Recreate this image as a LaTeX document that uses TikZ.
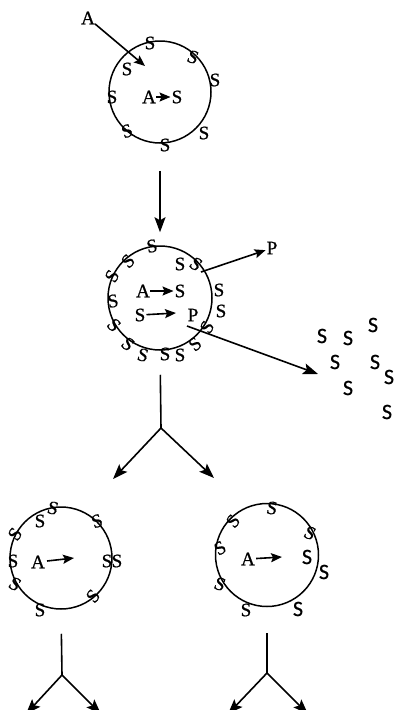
\documentclass[tikz,border=0pt]{standalone}
\usepackage{fontspec}
\setmainfont{Liberation Serif}[FakeBold=0.9]
\newfontfamily\sansS{Carlito}[FakeBold=0.6]
\usetikzlibrary{arrows.meta}

\tikzset{
  cell/.style={draw, circle, line width=1.5pt, inner sep=0pt},
  lab/.style={inner sep=0pt, font=\fontsize{19}{19}\selectfont},
  slab/.style={inner sep=0pt, font=\sansS\fontsize{22}{22}\selectfont},
  flow/.style={line width=1.6pt},
  big/.style={flow, -{Stealth[length=15pt,width=11pt,inset=3pt]}},
  small/.style={flow, -{Stealth[length=11pt,width=9pt,inset=2pt]}}
}

\begin{document}
\begin{tikzpicture}[x=1pt,y=-1pt]
\useasboundingbox (0,0) rectangle (394,710);

% ---------- first cell ----------
\node[cell, minimum size=102pt] (c1) at (160,92) {};
\node[lab] (a0) at (88,18) {A};
\coordinate (a0end) at (145,66);
\draw[small] (a0) -- (a0end);
\node[lab] (s11) at (150,43) {S};
\node[lab, rotate=-20] (s12) at (193,57) {S};
\node[lab] (s13) at (127,69) {S};
\node[lab] (s14) at (215,80) {S};
\node[lab] (s15) at (112,97) {S};
\node[lab] (a1) at (149,97) {A};
\node[lab] (s16) at (177,97) {S};
\draw[small, shorten <=0pt, shorten >=1pt] (a1) -- (s16);
\node[lab, rotate=20] (s17) at (127,131) {S};
\node[lab] (s18) at (204,133) {S};
\node[lab] (s19) at (165,145) {S};

% ---------- second cell ----------
\node[cell, minimum size=104pt] (c2) at (160,298) {};
\draw[big, shorten <=27pt, shorten >=13pt] (c1.south) -- (c2.north);
\node[lab, rotate=10] (s21) at (152,246) {S};
\node[lab, rotate=45] (s22) at (128,261) {S};
\node[lab, rotate=60] (s23) at (112,276) {S};
\node[lab, rotate=10] (s24) at (113,301) {S};
\node[lab, rotate=-45] (s25) at (114,325) {S};
\node[lab, rotate=-40] (s26) at (128,344) {S};
\node[lab, rotate=-15] (s27) at (143,355) {S};
\node[lab] (s28) at (165,354) {S};
\node[lab] (s29) at (180,355) {S};
\node[lab, rotate=40] (s2a) at (195,344) {S};
\node[lab, rotate=58] (s2b) at (207,327) {S};
\node[lab] (s2c) at (180,264) {S};
\node[lab, rotate=-35] (s2d) at (196,264) {S};
\node[lab] (s2e) at (219,290) {S};
\node[lab] (s2f) at (221,311) {S};
\node[lab] (a2) at (143,291) {A};
\node[lab] (s2g) at (180,291) {S};
\draw[small, shorten <=0pt, shorten >=1pt] (a2) -- (s2g);
\node[lab] (s2h) at (140,315) {S};
\coordinate (s2hend) at (176,313);
\draw[small, shorten <=1pt] (s2h) -- (s2hend);
\node[lab] (p2) at (193,315) {P};

% product leaving the cell
\coordinate (pout) at (201,272);
\node[lab] (p3) at (272,248) {P};
\draw[small, shorten >=1pt] (pout) -- (p3);

% substrate released to the medium
\coordinate (rel) at (187,326);
\coordinate (relend) at (318,374);
\draw[big] (rel) -- (relend);
\node[slab] (f1) at (322,336) {S};
\node[slab] (f2) at (348,338) {S};
\node[slab] (f3) at (373,325) {S};
\node[slab] (f4) at (335,362) {S};
\node[slab] (f5) at (375,362) {S};
\node[slab] (f6) at (389,377) {S};
\node[slab] (f7) at (348,388) {S};
\node[slab] (f8) at (387,412) {S};

% ---------- first division ----------
\coordinate (k1) at (161,428);
\coordinate (k1l) at (113,479);
\coordinate (k1r) at (214,478);
\draw[flow, shorten <=24pt] (c2.south) -- (k1);
\draw[big] (k1) -- (k1l);
\draw[big] (k1) -- (k1r);

% ---------- left daughter cell ----------
\node[cell, minimum size=102pt] (c3) at (61,558) {};
\node[lab, rotate=-15] (s31) at (53,508) {S};
\node[lab] (s32) at (40,521) {S};
\node[lab, rotate=20] (s33) at (97,521) {S};
\node[lab, rotate=55] (s34) at (15,534) {S};
\node[lab] (s35) at (13,561) {S};
\node[lab] (a3) at (38,562) {A};
\coordinate (a3end) at (74,558);
\draw[small, shorten <=2pt] (a3) -- (a3end);
\node[lab] (s36) at (107,561) {S};
\node[lab] (s37) at (117,561) {S};
\node[lab, rotate=-30] (s38) at (15,584) {S};
\node[lab, rotate=50] (s39) at (93,596) {S};
\node[lab] (s3a) at (40,610) {S};

% ---------- right daughter cell ----------
\node[cell, minimum size=103pt] (c4) at (267,555) {};
\node[lab, rotate=-10] (s41) at (272,508) {S};
\node[lab, rotate=50] (s42) at (233,521) {S};
\node[lab, rotate=-25] (s43) at (310,533) {S};
\node[lab, rotate=30] (s44) at (220,548) {S};
\node[lab] (a4) at (248,559) {A};
\coordinate (a4end) at (282,557);
\draw[small, shorten <=1pt] (a4) -- (a4end);
\node[slab] (s45) at (307,557) {S};
\node[slab] (s46) at (324,572) {S};
\node[lab, rotate=-20] (s47) at (220,584) {S};
\node[lab] (s48) at (246,610) {S};
\node[slab] (s49) at (298,609) {S};

% ---------- next divisions ----------
\coordinate (k2) at (62,675);
\coordinate (k2l) at (26,714);
\coordinate (k2r) at (101,714);
\draw[flow, shorten <=24pt] (c3.south) -- (k2);
\draw[big] (k2) -- (k2l);
\draw[big] (k2) -- (k2r);

\coordinate (k3) at (267,673);
\coordinate (k3l) at (228,714);
\coordinate (k3r) at (308,714);
\draw[flow, shorten <=26pt] (c4.south) -- (k3);
\draw[big] (k3) -- (k3l);
\draw[big] (k3) -- (k3r);
\end{tikzpicture}
\end{document}
